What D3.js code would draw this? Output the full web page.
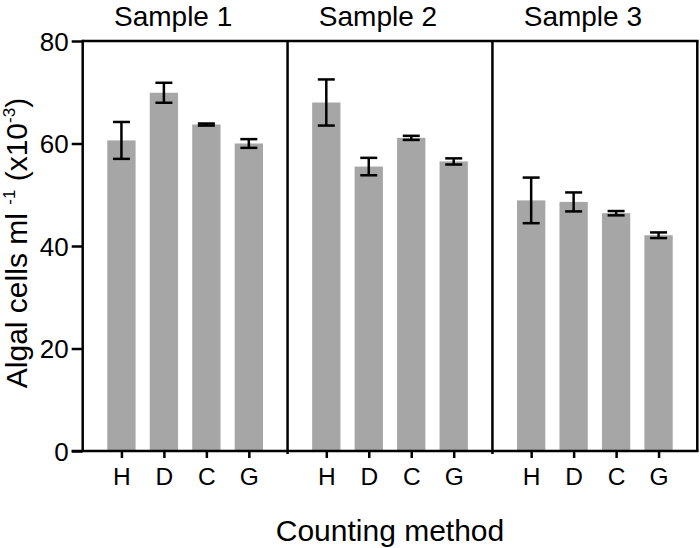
<!DOCTYPE html>
<html>
<head>
<meta charset="utf-8">
<script src="https://cdn.jsdelivr.net/npm/d3@7"></script>
<style>
  html, body { margin: 0; padding: 0; background: #fff; }
  svg { display: block; font-family: Arial, "Liberation Sans", Helvetica, sans-serif; }
</style>
</head>
<body>
<svg id="chart" width="700" height="548"></svg>
<script>
// ---- data ----
const samples = ["Sample 1", "Sample 2", "Sample 3"];
const methods = ["H", "D", "C", "G"];
const means = [
  [60.6, 69.9, 63.7, 60.0],
  [68.0, 55.5, 61.1, 56.5],
  [48.9, 48.6, 46.4, 42.1]
];
const errors = [
  [3.6, 1.95, 0.2, 0.85],
  [4.5, 1.7, 0.4, 0.6],
  [4.45, 1.85, 0.42, 0.55]
];
const yTicks = [0, 20, 40, 60, 80];
const xTitle = "Counting method";

// ---- layout ----
const svg = d3.select("#chart");
const plotL = 82.7, plotR = 697.3, plotT = 41, plotB = 451;
const lineW = 2.5;

const y = d3.scaleLinear().domain([0, 80]).range([plotB, plotT]);
const xPanel = d3.scaleBand().domain(samples).range([plotL, plotR]).padding(0);
const xMethod = d3.scalePoint().domain(methods).range([0, xPanel.bandwidth()]).padding(0.912);
const barW = 28.3;
const capW = 17;

const rows = [];
samples.forEach((s, i) => methods.forEach((m, j) => rows.push({ s, m, v: means[i][j], e: errors[i][j] })));
const cx = d => xPanel(d.s) + xMethod(d.m);

// bars
svg.append("g").selectAll("rect").data(rows).join("rect")
  .attr("x", d => cx(d) - barW / 2)
  .attr("width", barW)
  .attr("y", d => y(d.v))
  .attr("height", d => y(0) - y(d.v))
  .attr("fill", "#a6a6a6");

// error bars
const eb = svg.append("g").attr("stroke", "#000").attr("stroke-width", lineW).attr("fill", "none");
eb.selectAll("line.v").data(rows).join("line").attr("class", "v")
  .attr("x1", cx).attr("x2", cx)
  .attr("y1", d => y(d.v + d.e)).attr("y2", d => y(d.v - d.e));
eb.selectAll("line.t").data(rows).join("line").attr("class", "t")
  .attr("x1", d => cx(d) - capW / 2).attr("x2", d => cx(d) + capW / 2)
  .attr("y1", d => y(d.v + d.e)).attr("y2", d => y(d.v + d.e));
eb.selectAll("line.b").data(rows).join("line").attr("class", "b")
  .attr("x1", d => cx(d) - capW / 2).attr("x2", d => cx(d) + capW / 2)
  .attr("y1", d => y(d.v - d.e)).attr("y2", d => y(d.v - d.e));

// frame: top, right, panel dividers
const frame = svg.append("g").attr("stroke", "#000").attr("stroke-width", lineW);
frame.append("line").attr("x1", plotL).attr("x2", plotR + lineW / 2).attr("y1", plotT).attr("y2", plotT);
frame.append("line").attr("x1", plotR).attr("x2", plotR).attr("y1", plotT).attr("y2", plotB);
frame.selectAll("line.div").data(samples.slice(1)).join("line").attr("class", "div")
  .attr("x1", d => xPanel(d)).attr("x2", d => xPanel(d))
  .attr("y1", plotT).attr("y2", plotB + 3);

// y axis
const yAxis = svg.append("g").attr("transform", `translate(${plotL},0)`)
  .call(d3.axisLeft(y).tickValues(yTicks).tickSize(11).tickPadding(3).tickFormat(d3.format("d")));
yAxis.select(".domain").attr("stroke-width", lineW).attr("d", `M0,${plotT - lineW / 2}V${plotB}`);
yAxis.selectAll(".tick line").attr("stroke-width", lineW);
yAxis.selectAll(".tick text").attr("font-size", 26).attr("fill", "#000").attr("dy", "0.35em");

// x axis per panel
samples.forEach(s => {
  const g = svg.append("g").attr("transform", `translate(${xPanel(s)},${plotB})`)
    .call(d3.axisBottom(xMethod).tickSize(7).tickPadding(10));
  g.select(".domain").remove();
  g.selectAll(".tick line").attr("stroke-width", lineW);
  g.selectAll(".tick text").attr("font-size", 24.5).attr("fill", "#000");
});
// baseline extending past left axis
svg.append("line").attr("stroke", "#000").attr("stroke-width", lineW)
  .attr("x1", plotL - 11).attr("x2", plotR + lineW / 2).attr("y1", plotB).attr("y2", plotB);

// panel titles
svg.append("g").selectAll("text").data(samples).join("text")
  .attr("x", d => xPanel(d) + xPanel.bandwidth() / 2 - 12)
  .attr("y", 25.5)
  .attr("text-anchor", "middle")
  .attr("font-size", 28)
  .attr("fill", "#000")
  .text(d => d);

// x title
svg.append("text")
  .attr("x", (plotL + plotR) / 2).attr("y", 541)
  .attr("text-anchor", "middle").attr("font-size", 30).attr("fill", "#000")
  .text(xTitle);

// y title
const yt = svg.append("text")
  .attr("transform", "translate(27,243) rotate(-90)")
  .attr("text-anchor", "middle").attr("font-size", 30).attr("fill", "#000");
yt.append("tspan").text("Algal cells ml ");
yt.append("tspan").attr("font-size", 17).attr("dy", -12).text("-1");
yt.append("tspan").attr("dy", 12).text(" (x10");
yt.append("tspan").attr("font-size", 17).attr("dy", -12).text("-3");
yt.append("tspan").attr("dy", 12).text(")");
</script>
</body>
</html>
